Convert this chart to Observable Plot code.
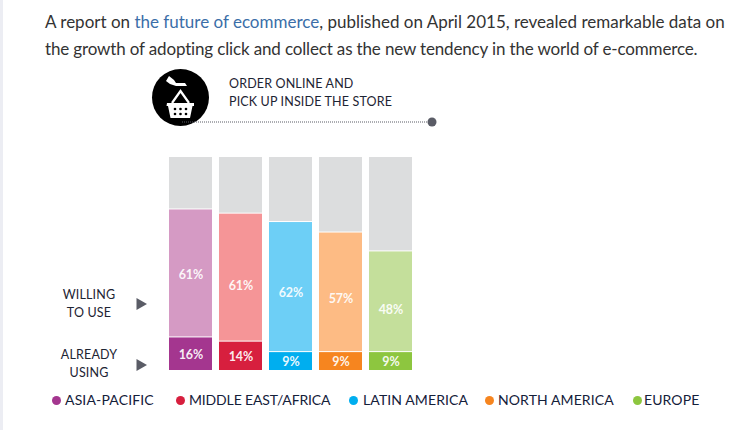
<!DOCTYPE html>
<html><head><meta charset="utf-8">
<script src="https://cdn.jsdelivr.net/npm/d3@7"></script>
<script src="https://cdn.jsdelivr.net/npm/@observablehq/plot@0.6"></script>
<style>
html,body{margin:0;padding:0;background:#fff;width:747px;height:430px;overflow:hidden}
#strip{position:absolute;left:0;top:0;width:3px;height:430px;background:#ecedf3}
#intro{position:absolute;left:45px;top:8px;width:700px;font:17px/27px Lato,sans-serif;color:#333;white-space:nowrap}
#intro a{color:#3b6ea8;text-decoration:none}
#intro span{letter-spacing:-.15px}
#chart{position:absolute;left:0;top:0}
.lab{position:absolute;font:12.5px/18px Lato,sans-serif;letter-spacing:.15px;color:#1d2433;white-space:nowrap}
.c{text-align:center;width:80px}
#legend{position:absolute;left:0;top:0;width:747px;height:430px;pointer-events:none}
.li{position:absolute;top:391px;font:14px/18px Lato,sans-serif;letter-spacing:.15px;color:#14203a;white-space:nowrap}
.dot{position:absolute;top:396px;width:9px;height:9px;border-radius:50%}
#deco{position:absolute;left:0;top:0}
</style></head><body>
<div id="strip"></div>
<div id="intro">A report on <a href="#">the future of ecommerce</a>, published on April 2015, revealed remarkable data on<br><span>the growth of adopting click and collect as the new tendency in the world of e-commerce.</span></div>
<div id="chart"></div>
<svg id="deco" width="747" height="430">
  <circle cx="180.500" cy="97.500" r="28.500" fill="#000"/>
  <path d="M166 81l3-5 5 4 2 3 9 0 2 3-11 0-6-2-4-3z" fill="#fff"/>
  <path d="M172 103l8.500-12 8.500 12" fill="none" stroke="#fff" stroke-width="2.200"/>
  <path d="M167 103h27v3h-1.500l-2.500 12h-19.500l-2.500-12h-1.500z" fill="#fff"/>
  <g fill="#000"><circle cx="175" cy="109" r="1.300"/><circle cx="180.500" cy="109" r="1.300"/><circle cx="186" cy="109" r="1.300"/><circle cx="175" cy="114" r="1.300"/><circle cx="180.500" cy="114" r="1.300"/><circle cx="186" cy="114" r="1.300"/></g>
  <line x1="182" y1="122" x2="432" y2="122" stroke="#5a5c66" stroke-width="1.200" stroke-dasharray="1 1"/>
  <circle cx="432" cy="122" r="4.500" fill="#5a5c66"/>
  <path d="M136.500 298l10.500 6-10.500 6z" fill="#5a5c66"/>
  <path d="M136.500 359l10.500 6-10.500 6z" fill="#5a5c66"/>
</svg>
<div class="lab" style="left:229px;top:75px">ORDER ONLINE AND</div>
<div class="lab" style="left:229px;top:93px">PICK UP INSIDE THE STORE</div>
<div class="lab c" style="left:49px;top:286px">WILLING</div>
<div class="lab c" style="left:49px;top:304px">TO USE</div>
<div class="lab c" style="left:49px;top:346px">ALREADY</div>
<div class="lab c" style="left:49px;top:364px">USING</div>
<div id="legend"></div>
<script>
const regions = ["ASIA-PACIFIC","MIDDLE EAST/AFRICA","LATIN AMERICA","NORTH AMERICA","EUROPE"];
const alreadyUsing = [16,14,9,9,9];
const willingToUse = [61,61,62,57,48];
const remainder = [25,27,31,36,45];
const strongColors = ["#a4368f","#d71f3e","#00aeef","#f6851f","#8dc63f"];
const paleColors = ["#d59ac4","#f59597","#6dcff6","#fdbb84","#c4df9b"];
const grey = "#dcddde";
const legendX = [[65,52],[189,176],[363,349],[498,485],[644,633]];
const legendSpacing = [0.15,-0.15,0.1,0.1,0.1];
const willingLabelDy = [2,9,6,7,9];

const rows = [];
regions.forEach((r,i)=>{
  rows.push({region:r,part:"already",value:alreadyUsing[i],fill:strongColors[i],label:alreadyUsing[i]+"%",nudge:1});
  rows.push({region:r,part:"willing",value:willingToUse[i],fill:paleColors[i],label:willingToUse[i]+"%",nudge:willingLabelDy[i]});
  rows.push({region:r,part:"rest",value:remainder[i],fill:grey,label:"",nudge:0});
});
const labelStyle = {x:"region",y:"value",z:"part",fill:"white",fillOpacity:0.92,fontSize:12.5,fontWeight:700,fontFamily:"Lato, sans-serif"};
const labelMarks = d3.range(0,10).map(dy => Plot.text(rows,Plot.stackY({...labelStyle,dy,text:d=>d.nudge===dy?d.label:""})));
const chart = Plot.plot({
  width:747,height:430,
  marginLeft:169,marginRight:335,marginTop:156,marginBottom:60,
  x:{domain:regions,paddingInner:0.14,paddingOuter:0,axis:null},
  y:{domain:[0,102],axis:null},
  style:{background:"transparent"},
  marks:[
    Plot.barY(rows,{x:"region",y:"value",z:"part",fill:"fill",insetTop:1}),
    ...labelMarks
  ]
});
document.getElementById("chart").appendChild(chart);
const lg = document.getElementById("legend");
regions.forEach((r,i)=>{
  const t=document.createElement("div");t.className="li";t.style.left=legendX[i][0]+"px";t.style.letterSpacing=legendSpacing[i]+"px";t.textContent=r;lg.appendChild(t);
  const d=document.createElement("div");d.className="dot";d.style.left=legendX[i][1]+"px";d.style.background=strongColors[i];lg.appendChild(d);
});
</script>
</body></html>
